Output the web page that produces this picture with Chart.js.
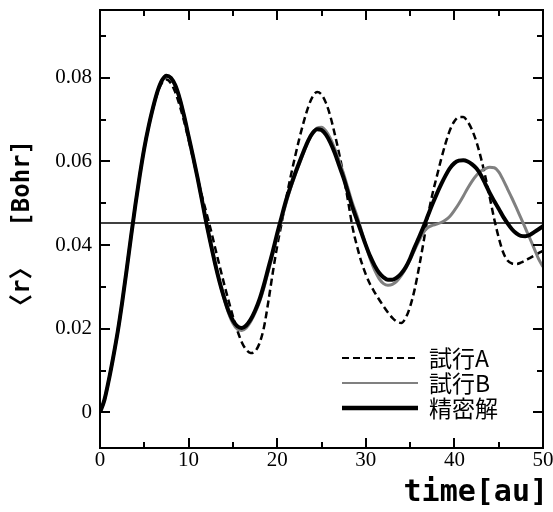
<!DOCTYPE html>
<html>
<head>
<meta charset="utf-8">
<script src="https://cdn.jsdelivr.net/npm/chart.js@4"></script>
<style>
  html, body { margin: 0; padding: 0; background: #fff; }
  canvas { display: block; }
</style>
</head>
<body>
<canvas id="chart" width="553" height="512"></canvas>
<script>
const times = [
  0, 0.5, 1, 1.5, 2, 2.5, 3, 3.5, 4, 4.5, 5, 5.5, 6, 6.5, 7, 7.5, 8, 8.5, 9, 9.5,
  10, 10.5, 11, 11.5, 12, 12.5, 13, 13.5, 14, 14.5, 15, 15.5, 16, 16.5, 17, 17.5, 18, 18.5, 19, 19.5,
  20, 20.5, 21, 21.5, 22, 22.5, 23, 23.5, 24, 24.5, 25, 25.5, 26, 26.5, 27, 27.5, 28, 28.5, 29, 29.5,
  30, 30.5, 31, 31.5, 32, 32.5, 33, 33.5, 34, 34.5, 35, 35.5, 36, 36.5, 37, 37.5, 38, 38.5, 39, 39.5,
  40, 40.5, 41, 41.5, 42, 42.5, 43, 43.5, 44, 44.5, 45, 45.5, 46, 46.5, 47, 47.5, 48, 48.5, 49, 49.5,
  50
];

// 試行A (dashed)
const trialA = [
  0, 0.003, 0.0078, 0.0133, 0.0193, 0.0263, 0.0340, 0.0420, 0.0497, 0.0568, 0.0632, 0.0684, 0.0728, 0.0764, 0.0788, 0.0796, 0.0787, 0.0765, 0.0733, 0.0695,
  0.0652, 0.0607, 0.0562, 0.0518, 0.0478, 0.0437, 0.0393, 0.0350, 0.0308, 0.0268, 0.0230, 0.0196, 0.0168, 0.0150, 0.0142, 0.0146, 0.0165, 0.0203, 0.0265, 0.0334,
  0.0398, 0.0453, 0.0510, 0.0562, 0.0610, 0.0655, 0.0695, 0.0730, 0.0755, 0.0766, 0.0760, 0.0740, 0.0708, 0.0665, 0.0618, 0.0565, 0.0505, 0.0443, 0.0398, 0.0360,
  0.0330, 0.0306, 0.0287, 0.0270, 0.0254, 0.0239, 0.0226, 0.0217, 0.0214, 0.0226, 0.0253, 0.0293, 0.0346, 0.0405, 0.0468, 0.0520, 0.0563, 0.0605, 0.0643, 0.0675,
  0.0696, 0.0706, 0.0706, 0.0695, 0.0675, 0.0646, 0.0608, 0.0563, 0.0513, 0.0462, 0.0418, 0.0383, 0.0363, 0.0356, 0.0355, 0.0358, 0.0363, 0.0369, 0.0375, 0.0381,
  0.0386
];

// 試行B (gray)
const trialB = [
  0, 0.003, 0.0078, 0.0133, 0.0193, 0.0263, 0.0340, 0.0420, 0.0497, 0.0568, 0.0632, 0.0685, 0.0730, 0.0768, 0.0794, 0.0805, 0.0800, 0.0782, 0.0750, 0.0708,
  0.0660, 0.0612, 0.0562, 0.0508, 0.0453, 0.0403, 0.0355, 0.0312, 0.0272, 0.0238, 0.0213, 0.0199, 0.0196, 0.0202, 0.0217, 0.0238, 0.0264, 0.0298, 0.0338, 0.0378,
  0.0420, 0.0462, 0.0500, 0.0535, 0.0566, 0.0594, 0.0622, 0.0648, 0.0668, 0.0680, 0.0682, 0.0673, 0.0655, 0.0630, 0.0601, 0.0570, 0.0535, 0.0500, 0.0470, 0.0435,
  0.0400, 0.0367, 0.0340, 0.0320, 0.0308, 0.0304, 0.0306, 0.0314, 0.0327, 0.0344, 0.0365, 0.0388, 0.0410, 0.0430, 0.0442, 0.0447, 0.0450, 0.0454, 0.0460, 0.0469,
  0.0483, 0.0499, 0.0517, 0.0536, 0.0553, 0.0567, 0.0577, 0.0583, 0.0586, 0.0585, 0.0575, 0.0556, 0.0534, 0.0512, 0.0489, 0.0465, 0.0441, 0.0417, 0.0392, 0.0367,
  0.0348
];

// 精密解 (thick black)
const exact = [
  0, 0.003, 0.0078, 0.0133, 0.0193, 0.0263, 0.0340, 0.0420, 0.0497, 0.0568, 0.0632, 0.0685, 0.0730, 0.0768, 0.0794, 0.0805, 0.0800, 0.0782, 0.0750, 0.0708,
  0.0660, 0.0612, 0.0562, 0.0508, 0.0453, 0.0403, 0.0355, 0.0312, 0.0275, 0.0243, 0.0220, 0.0206, 0.0202, 0.0208, 0.0222, 0.0243, 0.0270, 0.0305, 0.0345, 0.0385,
  0.0428, 0.0468, 0.0507, 0.0540, 0.0570, 0.0598, 0.0625, 0.0650, 0.0668, 0.0677, 0.0675, 0.0664, 0.0645, 0.0620, 0.0590, 0.0560, 0.0525, 0.0490, 0.0460, 0.0430,
  0.0400, 0.0373, 0.0351, 0.0334, 0.0323, 0.0317, 0.0317, 0.0322, 0.0332, 0.0347, 0.0368, 0.0394, 0.0418, 0.0443, 0.0470, 0.0497, 0.0522, 0.0545, 0.0566, 0.0584,
  0.0596, 0.0602, 0.0603, 0.0600, 0.0593, 0.0583, 0.0567, 0.0546, 0.0524, 0.0505, 0.0487, 0.0468, 0.0452, 0.0438, 0.0428, 0.0422, 0.0421, 0.0424, 0.0431, 0.0438,
  0.0445
];

// horizontal reference level
const refX = [0, 50];
const refY = [0.0453, 0.0453];

const xTicks = [0, 10, 20, 30, 40, 50];
const xMinorTicks = [5, 15, 25, 35, 45];
const yTicks = [0, 0.02, 0.04, 0.06, 0.08];
const yMinorTicks = [0.01, 0.03, 0.05, 0.07, 0.09];

const toPoints = (xs, ys) => xs.map((x, i) => ({ x: x, y: ys[i] }));

const serif = '"Liberation Serif", "Times New Roman", serif';
const mono = '"DejaVu Sans Mono", "Noto Sans CJK JP", monospace';
const gothic = '"Noto Sans CJK JP", sans-serif';

// frame with inward ticks on all four sides, plus the x axis title
const frameTicks = {
  id: 'frameTicks',
  afterDatasetsDraw(chart) {
    const { ctx, chartArea: a, scales: { x, y } } = chart;
    ctx.save();
    ctx.strokeStyle = '#000';
    ctx.lineWidth = 2;
    ctx.strokeRect(a.left, a.top, a.right - a.left, a.bottom - a.top);
    ctx.beginPath();
    const xt = (vals, len) => vals.forEach(v => {
      const px = Math.round(x.getPixelForValue(v));
      ctx.moveTo(px, a.bottom); ctx.lineTo(px, a.bottom - len);
      ctx.moveTo(px, a.top); ctx.lineTo(px, a.top + len);
    });
    const yt = (vals, len) => vals.forEach(v => {
      const py = Math.round(y.getPixelForValue(v));
      ctx.moveTo(a.left, py); ctx.lineTo(a.left + len, py);
      ctx.moveTo(a.right, py); ctx.lineTo(a.right - len, py);
    });
    xt(xTicks, 10);
    xt(xMinorTicks, 6);
    yt(yTicks, 10);
    yt(yMinorTicks, 6);
    ctx.stroke();

    ctx.fillStyle = '#000';
    ctx.font = 'bold 30px ' + mono;
    ctx.textAlign = 'right';
    ctx.textBaseline = 'middle';
    ctx.fillText('time[au]', a.right + 5, 493);
    ctx.restore();
  }
};

// legend placed inside the lower right of the plot
const insideLegend = {
  id: 'insideLegend',
  afterDraw(chart) {
    const { ctx } = chart;
    const rows = [358, 383, 408];
    ctx.save();
    chart.data.datasets.slice(0, 3).forEach((ds, i) => {
      const yy = rows[i];
      ctx.beginPath();
      ctx.strokeStyle = ds.borderColor;
      ctx.lineWidth = ds.legendWidth;
      ctx.setLineDash(ds.borderDash || []);
      ctx.moveTo(342, yy);
      ctx.lineTo(418, yy);
      ctx.stroke();
      ctx.setLineDash([]);
      ctx.fillStyle = '#000';
      ctx.font = '23px ' + gothic;
      ctx.textBaseline = 'middle';
      ctx.textAlign = 'left';
      ctx.fillText(ds.label, 429, yy);
    });
    ctx.restore();
  }
};

new Chart(document.getElementById('chart').getContext('2d'), {
  type: 'line',
  plugins: [frameTicks, insideLegend],
  data: {
    datasets: [
      {
        label: '試行A',
        data: toPoints(times, trialA),
        borderColor: '#000',
        borderWidth: 2.5,
        borderDash: [7, 4],
        legendWidth: 2,
        order: 2
      },
      {
        label: '試行B',
        data: toPoints(times, trialB),
        borderColor: '#808080',
        borderWidth: 3,
        legendWidth: 2,
        order: 1
      },
      {
        label: '精密解',
        data: toPoints(times, exact),
        borderColor: '#000',
        borderWidth: 4,
        legendWidth: 4.5,
        order: 0
      },
      {
        label: 'ref',
        data: toPoints(refX, refY),
        borderColor: '#000',
        borderWidth: 1.5,
        cubicInterpolationMode: 'default',
        tension: 0,
        order: 3
      }
    ]
  },
  options: {
    responsive: false,
    animation: false,
    events: [],
    elements: {
      point: { radius: 0 },
      line: { cubicInterpolationMode: 'monotone', fill: false }
    },
    layout: { autoPadding: false, padding: { top: 10, right: 10, left: 0, bottom: 0 } },
    plugins: {
      legend: { display: false },
      tooltip: { enabled: false }
    },
    scales: {
      x: {
        type: 'linear',
        min: 0,
        max: 50,
        afterFit: (s) => { s.height = 64; s.paddingLeft = 0; s.paddingRight = 0; },
        afterBuildTicks: (s) => { s.ticks = xTicks.map(v => ({ value: v })); },
        grid: { display: false, drawTicks: false },
        border: { display: false },
        ticks: {
          color: '#000',
          padding: 2,
          maxRotation: 0,
          font: { family: serif, size: 21, lineHeight: 1 }
        }
      },
      y: {
        type: 'linear',
        min: -0.0085,
        max: 0.0962,
        afterFit: (s) => { s.width = 100; s.paddingTop = 0; s.paddingBottom = 0; },
        afterBuildTicks: (s) => { s.ticks = yTicks.map(v => ({ value: v })); },
        grid: { display: false, drawTicks: false },
        border: { display: false },
        ticks: {
          color: '#000',
          padding: 8,
          font: { family: serif, size: 21, lineHeight: 1 },
          callback: (v) => v === 0 ? '0' : v.toFixed(2)
        },
        title: {
          display: true,
          text: '〈r〉  [Bohr]',
          color: '#000',
          padding: { top: 8, bottom: 0 },
          font: { family: mono, size: 24, weight: 'bold', lineHeight: 1.2 }
        }
      }
    }
  }
});
</script>
</body>
</html>
